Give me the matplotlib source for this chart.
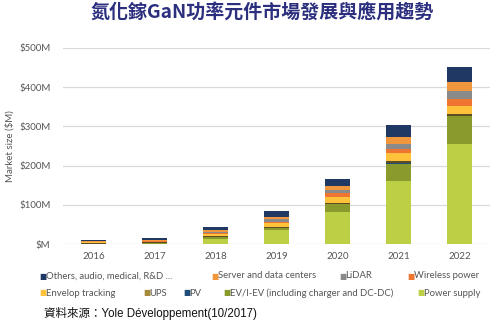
import numpy as np
import matplotlib.pyplot as plt

plt.rcParams['font.family'] = ['Lato', 'DejaVu Sans']

years = ['2016', '2017', '2018', '2019', '2020', '2021', '2022']

# market size per application, $M (stacked bottom to top)
power_supply = [0.5, 1, 14, 36, 81, 160, 255]
ev_hev = [0.2, 0.5, 3, 4, 20, 45, 71]
pv = [0.3, 0.5, 1, 1, 1, 2, 1]
ups = [2, 2, 3, 2, 3, 5, 4]
envelop = [1, 2, 4, 10, 15, 19, 22]
wireless = [0.5, 1, 3, 3, 10, 12, 16]
lidar = [0.5, 1, 3, 7, 7, 12, 22]
server = [2, 3, 4, 7, 10, 18, 23]
others = [3, 4, 8, 13, 20, 30, 38]

series = [
    ('Power supply', power_supply, '#bdcf45'),
    ('EV/I-EV (including charger and DC-DC)', ev_hev, '#8a9a2c'),
    ('PV', pv, '#1f4e79'),
    ('UPS', ups, '#5e4c22'),
    ('Envelop tracking', envelop, '#ffc23a'),
    ('Wireless power', wireless, '#ee7631'),
    ('LiDAR', lidar, '#8a8a8a'),
    ('Server and data centers', server, '#f0963c'),
    ('Others, audio, medical, R&D ...', others, '#203864'),
]

fig = plt.figure(figsize=(4.99, 3.28), dpi=100)
ax = fig.add_axes([0.126, 0.256, 0.856, 0.598])

x = np.arange(len(years))
bottom = np.zeros(len(years))
for name, vals, col in series:
    ax.bar(x, vals, width=0.4, bottom=bottom, color=col, zorder=3)
    bottom += np.array(vals)

ax.set_xlim(-0.5, 6.5)
ax.set_ylim(0, 500)
ax.set_yticks(range(0, 501, 100))
ax.set_yticklabels(['$M', '$100M', '$200M', '$300M', '$400M', '$500M'])
ax.set_xticks(x)
ax.set_xticklabels(years)
ax.grid(axis='y', color='#d9d9d9', linewidth=0.9, zorder=0)
for s in ax.spines.values():
    s.set_visible(False)
ax.tick_params(length=0, labelsize=7, colors='#555555', pad=6)
ax.tick_params(axis='y', pad=9)
ax.set_ylabel('Market size ($M)', fontsize=7, color='#555555')
ax.yaxis.set_label_coords(-0.112, 0.5)

fig.text(0.526, 0.962, '氮化鎵GaN功率元件市場發展與應用趨勢', ha='center', va='center',
         fontsize=13.7, fontweight='heavy', color='#2b2f7e',
         family=['Noto Sans CJK TC', 'DejaVu Sans'])

# legend, two rows of square swatches
legend_colors = {name: col for name, _, col in series}
legend_colors['UPS'] = '#a88a3c'
rows = [
    [('Others, audio, medical, R&D ...', 39), ('Server and data centers', 211),
     ('LiDAR', 339), ('Wireless power', 407)],
    [('Envelop tracking', 39), ('UPS', 143), ('PV', 183),
     ('EV/I-EV (including charger and DC-DC)', 223), ('Power supply', 417)],
]
for row, ypix in zip(rows, [276, 293]):
    for name, xpix in row:
        fig.text(xpix / 499, 1 - ypix / 328, '■', color=legend_colors[name],
                 fontsize=5.5, va='center', ha='left', family='DejaVu Sans')
        fig.text((xpix + 6.5) / 499, 1 - ypix / 328, name, color='#555555',
                 fontsize=6.8, va='center', ha='left')

fig.text(44 / 499, 1 - 313 / 328, '資料來源：Yole Développement(10/2017)',
         fontsize=8.3, va='center', ha='left', color='#111111',
         family=['Liberation Sans', 'Noto Sans CJK TC'])

fig.savefig('out.png', dpi=100)
